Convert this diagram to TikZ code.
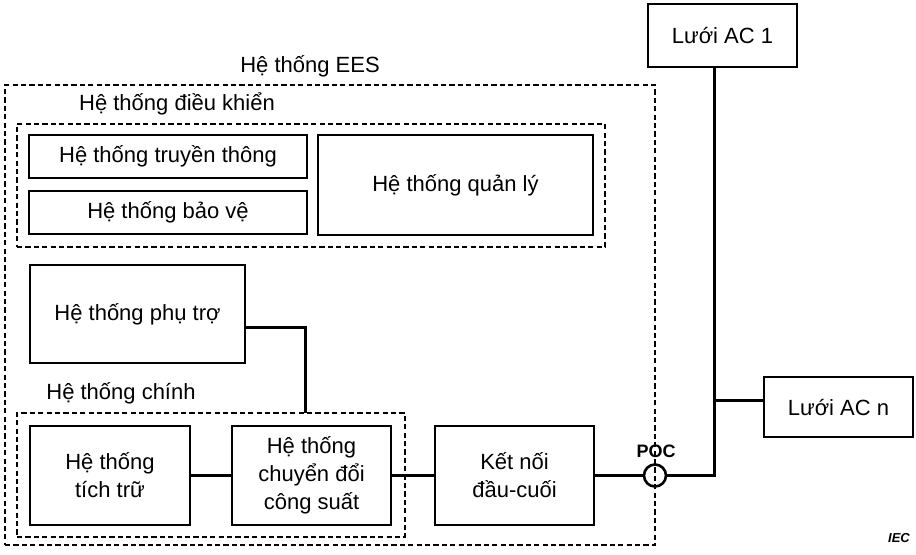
\documentclass[tikz,border=0pt]{standalone}
\usepackage{fontspec}
\setmainfont{Liberation Sans}
\usetikzlibrary{shapes}
\tikzstyle{blk}=[rectangle,draw,line width=1.1pt,align=center,inner sep=0pt,font=\fontsize{11}{14}\selectfont]
\tikzstyle{frame}=[rectangle,draw,line width=1.3pt,dash pattern=on 2.6pt off 1.6pt,inner sep=0pt]
\tikzstyle{lbl}=[font=\fontsize{11}{14}\selectfont]
\tikzstyle{wire}=[line width=1.5pt]

\begin{document}
\begin{tikzpicture}[x=0.5pt,y=-0.5pt]
\useasboundingbox (0,0) rectangle (916,554);
% dashed system frames
\node[frame,minimum width=325pt,minimum height=230pt] (EES) at (330,315) {};
\node[frame,minimum width=294pt,minimum height=61.5pt] (CTL) at (311,185.5) {};
\node[frame,minimum width=194pt,minimum height=62pt] (MAIN) at (211,475) {};
\node[lbl] (lEES) at (310,66) {Hệ thống EES};
\node[lbl] (lCTL) at (177,104) {Hệ thống điều khiển};
\node[lbl] (lMAIN) at (121,393) {Hệ thống chính};
% blocks
\node[blk,minimum width=139pt,minimum height=21.5pt] (TT) at (168,156.5) {Hệ thống truyền thông};
\node[blk,minimum width=139pt,minimum height=21.5pt] (BV) at (168,212.5) {Hệ thống bảo vệ};
\node[blk,minimum width=137.5pt,minimum height=50pt] (QL) at (455.5,185) {Hệ thống quản lý};
\node[blk,minimum width=107.5pt,minimum height=49pt] (PT) at (137.5,314) {Hệ thống phụ trợ};
\node[blk,minimum width=80pt,minimum height=49.5pt] (TTr) at (110,475.5) {Hệ thống\\tích trữ};
\node[blk,minimum width=79.5pt,minimum height=49.5pt] (CD) at (311.5,475.5) {Hệ thống\\chuyển đổi\\công suất};
\node[blk,minimum width=79.5pt,minimum height=49.5pt] (KN) at (514.5,475.5) {Kết nối\\đầu-cuối};
\node[blk,minimum width=74.5pt,minimum height=31.5pt] (AC1) at (722.5,35.5) {Lưới AC 1};
\node[blk,minimum width=74.5pt,minimum height=30pt] (ACn) at (838.5,407) {Lưới AC n};
\node[circle,draw,line width=1.3pt,minimum size=11pt,inner sep=0pt] (POC) at (655,475.5) {};
\node[font=\fontsize{9}{10}\selectfont\bfseries] (lPOC) at (656,451) {POC};
\node[font=\fontsize{6.5}{7}\selectfont\bfseries\itshape] (IEC) at (899,538) {IEC};
% connections
\coordinate (j) at (305,413);
\coordinate (bus) at (714,475.5);
\draw[wire] ([yshift=-6.5pt]PT.east) -| (j);
\draw[wire] (TTr) -- (CD);
\draw[wire] (CD) -- (KN);
\draw[wire] (KN) -- (POC);
\draw[wire] (POC) -- (bus) -- (bus |- AC1.south);
\draw[wire] (bus |- ACn.west) ++(0,-7) -- ([yshift=3.5pt]ACn.west);
\end{tikzpicture}
\end{document}
